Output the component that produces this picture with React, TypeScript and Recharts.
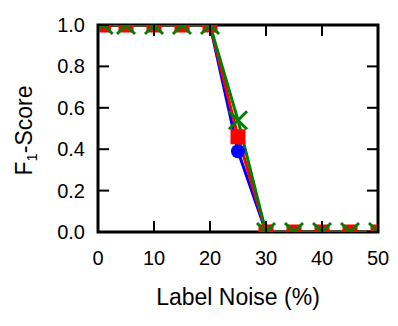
import React from "react";
import { ComposedChart, Line, XAxis, YAxis, ReferenceArea } from "recharts";

const noise = [1, 5, 10, 15, 20, 25, 30, 35, 40, 45, 50];
const blueF1 = [1, 1, 1, 1, 1, 0.39, 0, 0, 0, 0, 0];
const redF1 = [1, 1, 1, 1, 1, 0.46, 0, 0, 0, 0, 0];
const greenF1 = [1, 1, 1, 1, 1, 0.54, 0, 0, 0, 0, 0];
const xTicks = [0, 10, 20, 30, 40, 50];
const yTicks = [0, 0.2, 0.4, 0.6, 0.8, 1.0];

const data = noise.map((x, i) => ({ x, blue: blueF1[i], red: redF1[i], green: greenF1[i] }));

const W = 398;
const H = 326;
const XH = 40;
const YW = 50;
const M = { top: 25, right: 20, bottom: 94 - XH, left: 98 - YW };
const PW = W - 98 - M.right;
const PH = H - M.top - 94;
const FONT = "'Liberation Sans', Arial, Helvetica, sans-serif";
const TL = 11;

const XTick = (p: any) => {
  const { x, y, payload } = p;
  return (
    <g>
      <line x1={x} x2={x} y1={y} y2={y - TL} stroke="#000" strokeWidth={2} />
      <line x1={x} x2={x} y1={y - PH} y2={y - PH + TL} stroke="#000" strokeWidth={2} />
      <text x={x} y={y + 33} textAnchor="middle" fontSize={20} fontFamily={FONT} fill="#000">
        {payload.value}
      </text>
    </g>
  );
};

const YTick = (p: any) => {
  const { x, y, payload } = p;
  return (
    <g>
      <line x1={x} x2={x + TL} y1={y} y2={y} stroke="#000" strokeWidth={2} />
      <line x1={x + PW} x2={x + PW - TL} y1={y} y2={y} stroke="#000" strokeWidth={2} />
      <text x={x - 13} y={y + 7} textAnchor="end" fontSize={20} fontFamily={FONT} fill="#000">
        {Number(payload.value).toFixed(1)}
      </text>
    </g>
  );
};

const Circle = (p: any) => {
  const { cx, cy } = p;
  if (cx == null || cy == null) return null;
  return <circle cx={cx} cy={cy} r={7} fill="#0000ff" />;
};

const Square = (p: any) => {
  const { cx, cy } = p;
  if (cx == null || cy == null) return null;
  const s = 7.5;
  return <rect x={cx - s} y={cy - s} width={2 * s} height={2 * s} fill="#ff0000" />;
};

const Cross = (p: any) => {
  const { cx, cy } = p;
  if (cx == null || cy == null) return null;
  const s = 9;
  return (
    <g stroke="#008000" strokeWidth={3}>
      <line x1={cx - s} y1={cy - s} x2={cx + s} y2={cy + s} />
      <line x1={cx - s} y1={cy + s} x2={cx + s} y2={cy - s} />
    </g>
  );
};

export default function App() {
  return (
    <div style={{ position: "absolute", left: 0, top: 0, background: "#fff" }}>
      <ComposedChart width={W} height={H} data={data} margin={M}>
        <XAxis
          dataKey="x"
          type="number"
          domain={[0, 50]}
          ticks={xTicks}
          allowDataOverflow
          axisLine={false}
          tickLine={false}
          tickSize={0}
          tickMargin={0}
          height={XH}
          tick={(p: any) => <XTick {...p} />}
          interval={0}
        />
        <YAxis
          type="number"
          domain={[0, 1]}
          ticks={yTicks}
          allowDataOverflow
          axisLine={false}
          tickLine={false}
          tickSize={0}
          tickMargin={0}
          width={YW}
          tick={(p: any) => <YTick {...p} />}
          interval={0}
        />
        <Line dataKey="blue" stroke="#0000ff" strokeWidth={3} dot={<Circle />} isAnimationActive={false} />
        <Line dataKey="red" stroke="#ff0000" strokeWidth={3} dot={<Square />} isAnimationActive={false} />
        <Line dataKey="green" stroke="#008000" strokeWidth={3} dot={<Cross />} isAnimationActive={false} />
        <ReferenceArea x1={0} x2={50} y1={0} y2={1} fill="none" fillOpacity={0} stroke="#000" strokeWidth={3} />
        <text x={98 + PW / 2} y={305} textAnchor="middle" fontSize={23} fontFamily={FONT} fill="#000">
          Label Noise (%)
        </text>
        <text
          x={0}
          y={0}
          transform={`translate(32, ${M.top + PH / 2 + 2}) rotate(-90)`}
          textAnchor="middle"
          fontSize={23}
          fontFamily={FONT}
          fill="#000"
        >
          F<tspan fontSize={15} dy={5}>1</tspan>
          <tspan dy={-5}>-Score</tspan>
        </text>
      </ComposedChart>
    </div>
  );
}
